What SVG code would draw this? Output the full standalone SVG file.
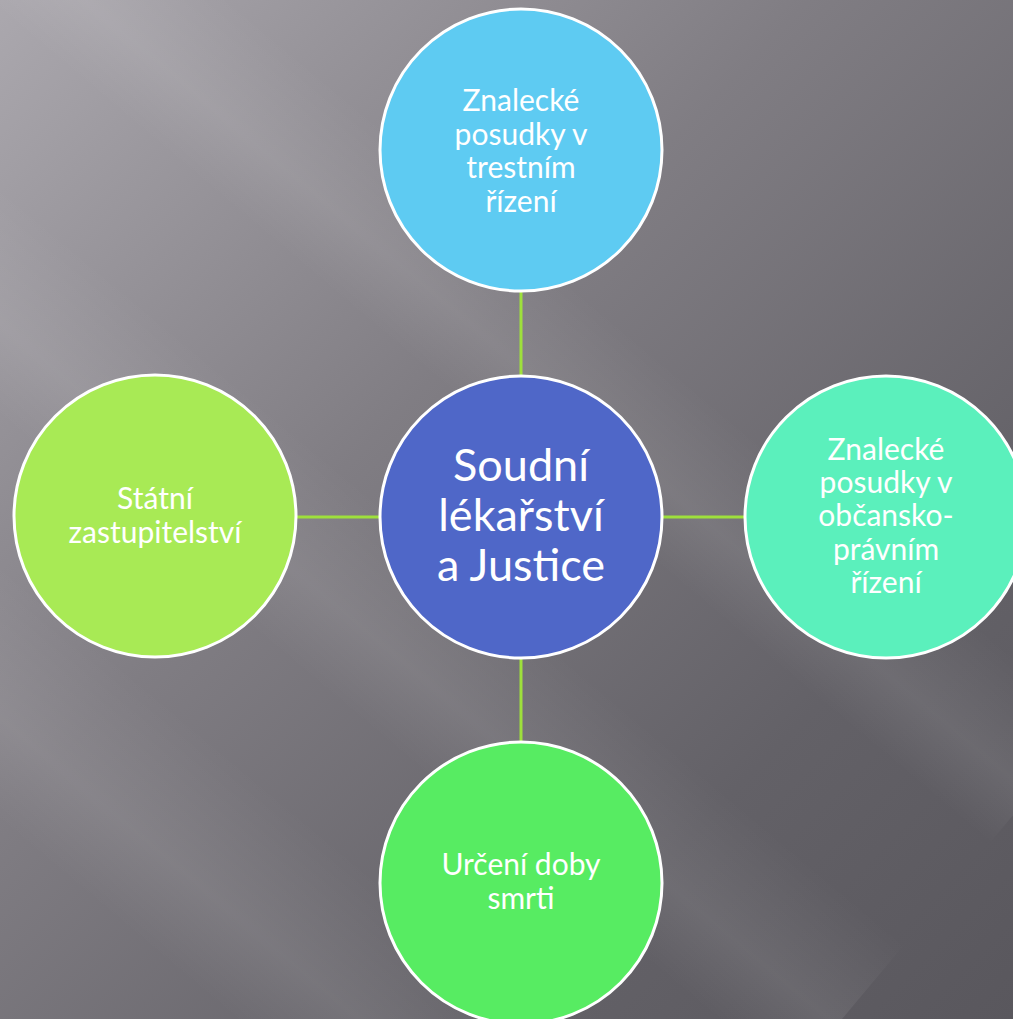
<svg xmlns="http://www.w3.org/2000/svg" width="1013" height="1019" viewBox="0 0 1013 1019">
<defs>
<linearGradient id="bg" x1="0" y1="0" x2="1" y2="1">
<stop offset="0" stop-color="#aba8ae"/>
<stop offset="0.4" stop-color="#807d83"/>
<stop offset="0.75" stop-color="#636167"/>
<stop offset="1" stop-color="#59575d"/>
</linearGradient>
<linearGradient id="band" x1="0" y1="0" x2="0" y2="1">
<stop offset="0" stop-color="#ffffff" stop-opacity="0"/>
<stop offset="0.6" stop-color="#ffffff" stop-opacity="0.08"/>
<stop offset="1" stop-color="#ffffff" stop-opacity="0"/>
</linearGradient>
<style>
.node circle{stroke:#ffffff;stroke-width:3}
.node text{font-family:Lato,"Liberation Sans",sans-serif;fill:#ffffff;text-anchor:middle}
.small{font-size:30px}
.big{font-size:45px}
.conn line{stroke:#9ee03c;stroke-width:3}
</style>
</defs>
<rect width="1013" height="1019" fill="url(#bg)"/>
<g id="background-streaks">
<rect x="-300" y="-90" width="1600" height="180" fill="url(#band)" transform="rotate(40) translate(0 230)"/>
<rect x="-300" y="-90" width="1600" height="160" fill="url(#band)" transform="rotate(40) translate(0 -60)"/>
<rect x="-300" y="-90" width="1600" height="200" fill="url(#band)" transform="rotate(40) translate(0 520)"/>
</g>
<g id="connectors" class="conn">
<line x1="521" y1="291" x2="521" y2="376"/>
<line x1="297" y1="517" x2="380" y2="517"/>
<line x1="663" y1="517" x2="745" y2="517"/>
<line x1="521" y1="658" x2="521" y2="742"/>
</g>
<g id="node-top" class="node">
<circle cx="521" cy="150" r="141" fill="#5ecbf2"/>
<text class="small"><tspan x="521" y="111">Znalecké</tspan><tspan x="521" y="145">posudky v</tspan><tspan x="521" y="178">trestním</tspan><tspan x="521" y="212">řízení</tspan></text>
</g>
<g id="node-center" class="node">
<circle cx="521" cy="517" r="141" fill="#4f67c8"/>
<text class="big"><tspan x="521" y="481">Soudní</tspan><tspan x="521" y="531">lékařství</tspan><tspan x="521" y="581">a Justice</tspan></text>
</g>
<g id="node-left" class="node">
<circle cx="155" cy="516" r="141" fill="#a8ea55"/>
<text class="small"><tspan x="155" y="509">Státní</tspan><tspan x="155" y="543">zastupitelství</tspan></text>
</g>
<g id="node-right" class="node">
<circle cx="886" cy="517" r="141" fill="#5bf0bc"/>
<text class="small"><tspan x="886" y="460">Znalecké</tspan><tspan x="886" y="493">posudky v</tspan><tspan x="886" y="526">občansko-</tspan><tspan x="886" y="560">právním</tspan><tspan x="886" y="593">řízení</tspan></text>
</g>
<g id="node-bottom" class="node">
<circle cx="521" cy="883" r="141" fill="#57ec62"/>
<text class="small"><tspan x="521" y="875">Určení doby</tspan><tspan x="521" y="909">smrti</tspan></text>
</g>
</svg>
